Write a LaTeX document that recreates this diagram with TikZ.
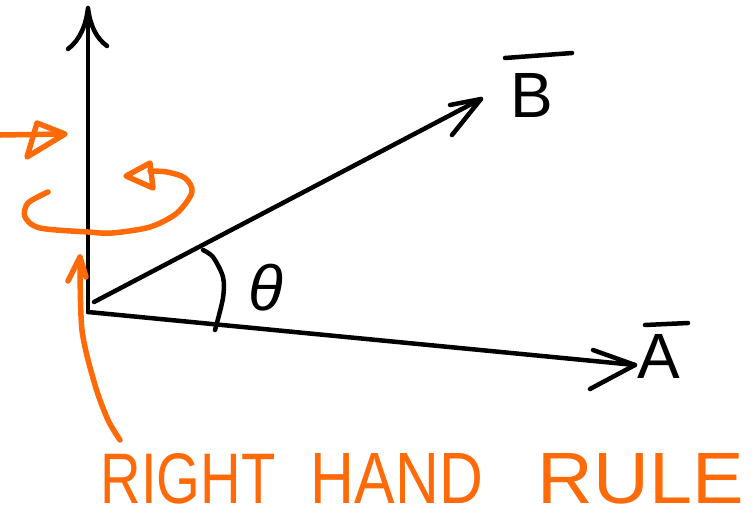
\documentclass[tikz,border=0pt]{standalone}
\usepackage{fontspec}
\setsansfont{Liberation Sans}
\definecolor{orangeink}{RGB}{255,106,8}
\begin{document}
\begin{tikzpicture}[x=1pt,y=-1pt,line cap=round,line join=round,
  ink/.style={line width=4.5pt,black},
  hl/.style={line width=5.5pt,orangeink},
  lbl/.style={font=\fontsize{64}{64}\selectfont\sffamily,inner sep=0pt},
  rule/.style={font=\fontsize{40}{40}\selectfont\sffamily,text=orangeink,inner sep=0pt,anchor=base}]
\useasboundingbox (0,0) rectangle (755,512);
% key points
\coordinate (O) at (88,312);
\coordinate (Ob) at (94,302);
\coordinate (Ytip) at (88,8);
\coordinate (Atip) at (635,365);
\coordinate (Btip) at (481,99);
% axes / vectors
\draw[ink] (O) -- (Ytip);
\draw[ink] (68,49) .. controls (80,40) and (86,25) .. (Ytip) .. controls (90,25) and (96,38) .. (107,46);
\draw[ink] (O) -- (Atip);
\draw[ink] (593,350) -- (Atip) -- (590,389);
\draw[ink] (Ob) -- (Btip);
\draw[ink] (450,105) -- (Btip) -- (452,135);
% angle
\draw[ink] plot[smooth] coordinates {(203,250) (213,257) (223,277) (223,298) (215,330)};
\node[lbl] (th) at (266,288) {\itshape θ};
% labels
\node[lbl] (lA) at (659,356) {A};
\draw[ink] (645,325) -- (688,323);
\node[lbl] (lB) at (532,95) {B};
\draw[ink] (505,58) -- (572,53);
% orange: right arrow
\draw[hl] (0,135) -- (62,134);
\draw[hl] (37,123) -- (65,134) -- (27,157) -- cycle;
% orange: curl
\draw[hl] plot[smooth] coordinates {(48,192) (28,203) (25,217) (40,228) (88,232) (112,233) (150,227) (177,213) (192,192) (185,178) (167,172) (150,171)};
\draw[hl] (150,163) -- (126,176) -- (153,188) -- cycle;
% orange: pointer to origin
\coordinate (Ptip) at (80,257);
\draw[hl] plot[smooth] coordinates {(120,440) (108,420) (95,385) (82,330) (Ptip)};
\draw[hl] (68,281) -- (Ptip) -- (86,277);
% text
\node[rule] (w1) at (188,503) {\resizebox{175pt}{50pt}{RIGHT}};
\node[rule] (w2) at (397,503) {\resizebox{172pt}{50pt}{HAND}};
\node[rule] (w3) at (641,503) {\resizebox{206pt}{50pt}{RULE}};
\end{tikzpicture}
\end{document}
